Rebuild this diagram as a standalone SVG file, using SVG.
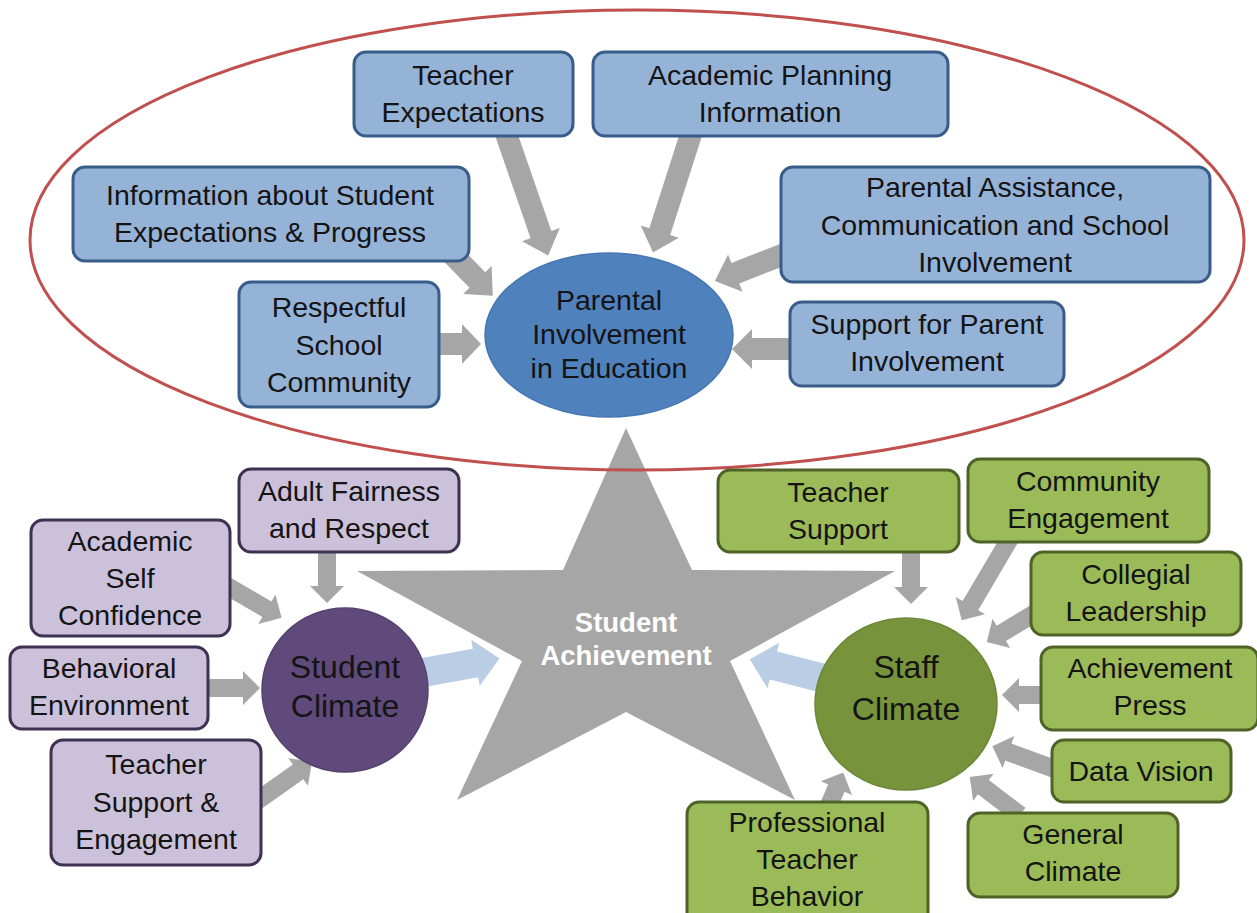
<svg xmlns="http://www.w3.org/2000/svg" width="1257" height="913" viewBox="0 0 1257 913">
<style>
  text { font-family: "Liberation Sans", Arial, sans-serif; text-anchor: middle; fill: #141414; }
  .t { font-size: 28.5px; }
  .c { font-size: 32px; }
  .s { font-size: 27.5px; font-weight: bold; fill: #ffffff; }
  .blue { fill: #95b3d7; stroke: #385d8a; stroke-width: 3; }
  .purple { fill: #ccc1da; stroke: #3f3151; stroke-width: 3; }
  .green { fill: #9bbb59; stroke: #4f6228; stroke-width: 3; }
  .arr { fill: #a6a6a6; }
  .larr { fill: #b9cde5; stroke: #ffffff; stroke-width: 3; }
</style>
<rect width="1257" height="913" fill="#ffffff"/>

<g id="student-achievement">
  <polygon fill="#a6a6a6" points="626,428 692,570 895,571 730,661 795,800 626,712 457,800 522,661 357,571 563,570"/>
  <text class="s" x="626" y="632">Student</text>
  <text class="s" x="626" y="665">Achievement</text>
</g>

<g id="connectors">
  <!-- parental involvement inputs -->
  <polygon class="arr" transform="translate(503,125) rotate(70.9)" points="0,-11 116,-11 116,-20 138,0 116,20 116,11 0,11"/>
  <polygon class="arr" transform="translate(694,125) rotate(107.8)" points="0,-11 112,-11 112,-20 134,0 112,20 112,11 0,11"/>
  <polygon class="arr" transform="translate(448,250) rotate(45.6)" points="0,-11 42,-11 42,-20 64,0 42,20 42,11 0,11"/>
  <polygon class="arr" transform="translate(795,250) rotate(158.8)" points="0,-11 64,-11 64,-20 86,0 64,20 64,11 0,11"/>
  <polygon class="arr" transform="translate(430,344)" points="0,-11 32,-11 32,-20 51,0 32,20 32,11 0,11"/>
  <polygon class="arr" transform="translate(800,349) rotate(180)" points="0,-11 48,-11 48,-20 68,0 48,20 48,11 0,11"/>
  <!-- student climate inputs -->
  <polygon class="arr" transform="translate(327,545) rotate(90)" points="0,-9 41,-9 41,-17 58,0 41,17 41,9 0,9"/>
  <polygon class="arr" transform="translate(222,583) rotate(30.3)" points="0,-9 52,-9 52,-17 69,0 52,17 52,9 0,9"/>
  <polygon class="arr" transform="translate(200,688)" points="0,-9 43,-9 43,-17 60,0 43,17 43,9 0,9"/>
  <polygon class="arr" transform="translate(250,806) rotate(-35.4)" points="0,-9 59,-9 59,-17 76,0 59,17 59,9 0,9"/>
  <!-- staff climate inputs -->
  <polygon class="arr" transform="translate(911,545) rotate(90)" points="0,-9 42,-9 42,-17 59,0 42,17 42,9 0,9"/>
  <polygon class="arr" transform="translate(1012,535) rotate(120.5)" points="0,-9 82,-9 82,-17 99,0 82,17 82,9 0,9"/>
  <polygon class="arr" transform="translate(1045,607) rotate(148.9)" points="0,-9 51,-9 51,-17 68,0 51,17 51,9 0,9"/>
  <polygon class="arr" transform="translate(1050,695) rotate(180)" points="0,-9 31,-9 31,-17 48,0 31,17 31,9 0,9"/>
  <polygon class="arr" transform="translate(1060,771) rotate(-159.8)" points="0,-9 55,-9 55,-17 72,0 55,17 55,9 0,9"/>
  <polygon class="arr" transform="translate(1020,815) rotate(-142.8)" points="0,-9 46,-9 46,-17 63,0 46,17 46,9 0,9"/>
  <polygon class="arr" transform="translate(826,812) rotate(-66.4)" points="0,-9 26,-9 26,-17 43,0 26,17 26,9 0,9"/>
  <!-- climates to achievement -->
  <polygon class="larr" transform="translate(415,674) rotate(-10.4)" points="0,-16 60,-16 60,-27 88,0 60,27 60,16 0,16"/>
  <polygon class="larr" transform="translate(830,680) rotate(-165.6)" points="0,-16 57,-16 57,-27 85,0 57,27 57,16 0,16"/>
</g>

<g id="parental-boundary">
  <ellipse cx="637" cy="240" rx="607" ry="230" fill="none" stroke="#c0504d" stroke-width="3"/>
</g>

<g id="parental-involvement">
  <ellipse cx="609" cy="335" rx="124" ry="82" fill="#4f81bd" stroke="#4677b2" stroke-width="1.5"/>
  <text class="t" x="609" y="310">Parental</text>
  <text class="t" x="609" y="344">Involvement</text>
  <text class="t" x="609" y="378">in Education</text>
</g>

<g id="teacher-expectations">
  <rect class="blue" x="354" y="52" width="219" height="84" rx="12"/>
  <text class="t" x="463" y="85">Teacher</text>
  <text class="t" x="463" y="122">Expectations</text>
</g>
<g id="academic-planning">
  <rect class="blue" x="593" y="52" width="355" height="84" rx="12"/>
  <text class="t" x="770" y="85">Academic Planning</text>
  <text class="t" x="770" y="122">Information</text>
</g>
<g id="info-student-expectations">
  <rect class="blue" x="73" y="167" width="396" height="94" rx="12"/>
  <text class="t" x="270" y="205">Information about Student</text>
  <text class="t" x="270" y="242">Expectations &amp; Progress</text>
</g>
<g id="parental-assistance">
  <rect class="blue" x="781" y="167" width="429" height="115" rx="12"/>
  <text class="t" x="995" y="197">Parental Assistance,</text>
  <text class="t" x="995" y="235">Communication and School</text>
  <text class="t" x="995" y="272">Involvement</text>
</g>
<g id="respectful-school">
  <rect class="blue" x="239" y="282" width="200" height="125" rx="12"/>
  <text class="t" x="339" y="317">Respectful</text>
  <text class="t" x="339" y="355">School</text>
  <text class="t" x="339" y="392">Community</text>
</g>
<g id="support-parent">
  <rect class="blue" x="790" y="302" width="274" height="84" rx="12"/>
  <text class="t" x="927" y="334">Support for Parent</text>
  <text class="t" x="927" y="371">Involvement</text>
</g>

<g id="student-climate">
  <ellipse cx="345" cy="690" rx="83" ry="82" fill="#604a7b" stroke="#56416f" stroke-width="1.5"/>
  <text class="c" x="345" y="678">Student</text>
  <text class="c" x="345" y="717">Climate</text>
</g>
<g id="adult-fairness">
  <rect class="purple" x="239" y="469" width="220" height="83" rx="12"/>
  <text class="t" x="349" y="501">Adult Fairness</text>
  <text class="t" x="349" y="538">and Respect</text>
</g>
<g id="academic-self-confidence">
  <rect class="purple" x="31" y="520" width="199" height="116" rx="12"/>
  <text class="t" x="130" y="551">Academic</text>
  <text class="t" x="130" y="588">Self</text>
  <text class="t" x="130" y="625">Confidence</text>
</g>
<g id="behavioral-environment">
  <rect class="purple" x="10" y="647" width="198" height="82" rx="12"/>
  <text class="t" x="109" y="678">Behavioral</text>
  <text class="t" x="109" y="715">Environment</text>
</g>
<g id="teacher-support-engagement">
  <rect class="purple" x="51" y="740" width="210" height="125" rx="12"/>
  <text class="t" x="156" y="774">Teacher</text>
  <text class="t" x="156" y="812">Support &amp;</text>
  <text class="t" x="156" y="849">Engagement</text>
</g>

<g id="staff-climate">
  <ellipse cx="906" cy="704" rx="91" ry="86" fill="#77933c" stroke="#6c8736" stroke-width="1.5"/>
  <text class="c" x="906" y="678">Staff</text>
  <text class="c" x="906" y="720">Climate</text>
</g>
<g id="teacher-support">
  <rect class="green" x="718" y="470" width="241" height="82" rx="12"/>
  <text class="t" x="838" y="502">Teacher</text>
  <text class="t" x="838" y="539">Support</text>
</g>
<g id="community-engagement">
  <rect class="green" x="968" y="459" width="241" height="83" rx="12"/>
  <text class="t" x="1088" y="491">Community</text>
  <text class="t" x="1088" y="528">Engagement</text>
</g>
<g id="collegial-leadership">
  <rect class="green" x="1031" y="552" width="210" height="83" rx="12"/>
  <text class="t" x="1136" y="584">Collegial</text>
  <text class="t" x="1136" y="621">Leadership</text>
</g>
<g id="achievement-press">
  <rect class="green" x="1041" y="647" width="217" height="83" rx="12"/>
  <text class="t" x="1150" y="678">Achievement</text>
  <text class="t" x="1150" y="715">Press</text>
</g>
<g id="data-vision">
  <rect class="green" x="1052" y="740" width="179" height="62" rx="12"/>
  <text class="t" x="1141" y="781">Data Vision</text>
</g>
<g id="general-climate">
  <rect class="green" x="968" y="813" width="210" height="84" rx="12"/>
  <text class="t" x="1073" y="844">General</text>
  <text class="t" x="1073" y="881">Climate</text>
</g>
<g id="professional-teacher-behavior">
  <rect class="green" x="687" y="802" width="241" height="125" rx="12"/>
  <text class="t" x="807" y="832">Professional</text>
  <text class="t" x="807" y="869">Teacher</text>
  <text class="t" x="807" y="906">Behavior</text>
</g>
</svg>
